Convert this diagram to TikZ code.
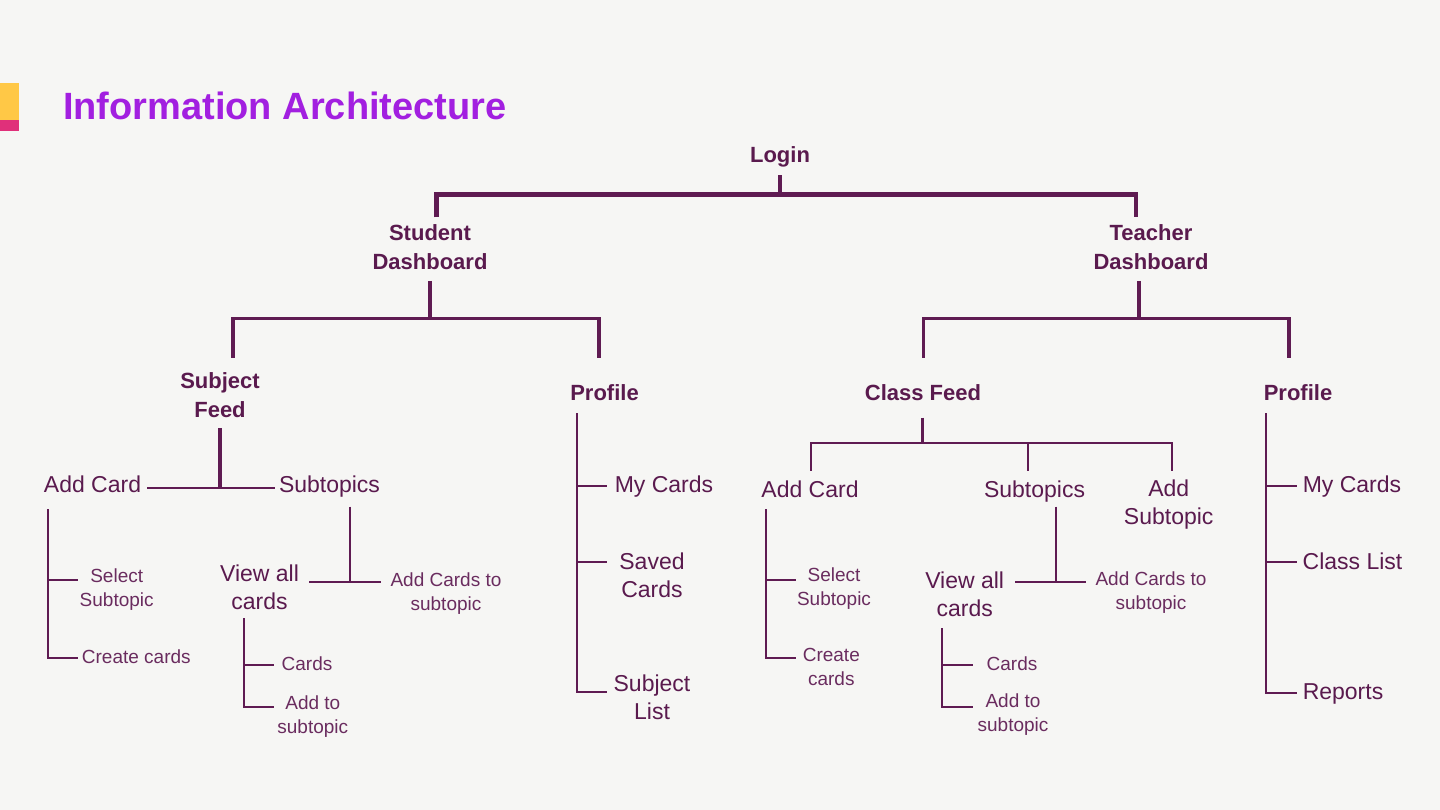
\documentclass[tikz,border=0pt]{standalone}
\usepackage{fontspec}
\setmainfont{Liberation Sans}
\definecolor{bg}{HTML}{F6F6F4}
\definecolor{txt}{HTML}{5A1A4E}
\definecolor{lighttxt}{HTML}{6A2C5F}
\definecolor{ln}{HTML}{5F1B52}
\definecolor{ttl}{HTML}{A21FE0}
\definecolor{yel}{HTML}{FFC846}
\definecolor{pnk}{HTML}{E0307A}
\begin{document}
\begin{tikzpicture}[x=1pt,y=-1pt,
  every node/.style={inner sep=0pt, anchor=base, align=center, text=txt},
  hd/.style={font=\bfseries\fontsize{22}{29}\selectfont},
  rg/.style={font=\fontsize{23}{28}\selectfont},
  lt/.style={font=\fontsize{19}{24}\selectfont, text=lighttxt},
  wA/.style={draw=ln, line width=4.5pt},
  wB/.style={draw=ln, line width=3.2pt},
  wC/.style={draw=ln, line width=2pt},
]
\useasboundingbox (0,0) rectangle (1440,810);
\fill[bg] (0,0) rectangle (1440,810);
\fill[yel] (0,83) rectangle (19,120.5);
\fill[pnk] (0,120.5) rectangle (19,131);
\node[anchor=base west, font=\bfseries\fontsize{38}{40}\selectfont, text=ttl] (title) at (63,119.5) {Information Architecture};

% level 0/1 (base anchor = baseline of last line)
\node[hd] (login) at (780,162.5) {Login};
\node[hd] (sd) at (430,269.5) {Student\\Dashboard};
\node[hd] (td) at (1151,269.5) {Teacher\\Dashboard};

\coordinate (loginS) at (780,175.5);
\coordinate (loginJ) at (780,194.3);
\coordinate (sdT) at (436.7,217.5);
\coordinate (tdT) at (1136,217.5);
\draw[wB] (loginS) -- (loginJ);
\draw[wA] (sdT) -- (sdT |- loginJ) -- (tdT |- loginJ) -- (tdT);

% level 2
\node[hd] (sf) at (220,417.5) {Subject\\Feed};
\node[hd] (sp) at (604.5,400.5) {Profile};
\node[hd] (cf) at (923,400.5) {Class Feed};
\node[hd] (tp) at (1298,400.5) {Profile};

\coordinate (sdS) at (430,281);
\coordinate (sdJ) at (430,318.3);
\coordinate (sfT) at (233,357.5);
\coordinate (spT) at (599,357.5);
\draw[wB] (sdS) -- (sdJ);
\draw[wB] (sfT) -- (sfT |- sdJ) -- (spT |- sdJ) -- (spT);

\coordinate (tdS) at (1139,281);
\coordinate (tdJ) at (1139,318.3);
\coordinate (cfT) at (923.5,357.5);
\coordinate (tpT) at (1289,357.5);
\draw[wB] (tdS) -- (tdJ);
\draw[wB] (cfT) -- (cfT |- tdJ) -- (tpT |- tdJ) -- (tpT);

% ---------- Student: Subject Feed ----------
\node[rg] (sac) at (92.5,492.7) {Add Card};
\node[rg] (sst) at (329.5,492.7) {Subtopics};
\coordinate (sfS) at (220,428.3);
\coordinate (sfJ) at (220,487.5);
\coordinate (sacE) at (147.3,487.5);
\coordinate (sstW) at (275,487.5);
\draw[wB] (sfS) -- (sfJ);
\draw[wC] (sacE) -- (sstW);

\node[lt] (sss) at (116.7,606.7) {Select\\Subtopic};
\node[lt] (scc) at (136.3,663.3) {Create cards};
\coordinate (sacV) at (47.7,509.3);
\coordinate (sacB) at (47.7,657.7);
\coordinate (sssL) at (47.7,580);
\draw[wC] (sacV) -- (sacB) -- (sacB -| 77.7,0);
\draw[wC] (sssL) -- (sssL -| 77.7,0);

\node[rg] (svc) at (259.5,609.3) {View all\\cards};
\node[lt] (sacs) at (446,610.5) {Add Cards to\\subtopic};
\coordinate (sstV) at (350,506.7);
\coordinate (sstJ) at (350,582);
\coordinate (svcE) at (309.3,582);
\coordinate (sacsW) at (380.7,582);
\draw[wC] (sstV) -- (sstJ);
\draw[wC] (svcE) -- (sacsW);

\node[lt] (scd) at (307,670) {Cards};
\node[lt] (sats) at (312.8,733.3) {Add to\\subtopic};
\coordinate (svcV) at (244.3,618.3);
\coordinate (svcB) at (244.3,707.3);
\coordinate (scdL) at (244.3,665);
\draw[wC] (svcV) -- (svcB) -- (svcB -| 274.3,0);
\draw[wC] (scdL) -- (scdL -| 274.3,0);

% ---------- Student: Profile ----------
\node[rg] (smc) at (664,492.7) {My Cards};
\node[rg] (ssc) at (652,597.3) {Saved\\Cards};
\node[rg] (ssl) at (652,719) {Subject\\List};
\coordinate (spV) at (577.3,413.3);
\coordinate (spB) at (577.3,692.3);
\coordinate (smcL) at (577.3,486);
\coordinate (sscL) at (577.3,562.3);
\draw[wC] (spV) -- (spB) -- (spB -| 606.7,0);
\draw[wC] (smcL) -- (smcL -| 606.7,0);
\draw[wC] (sscL) -- (sscL -| 606.7,0);

% ---------- Teacher: Class Feed ----------
\node[rg] (tac) at (810,497.3) {Add Card};
\node[rg] (tst) at (1034.5,497.3) {Subtopics};
\node[rg] (tas) at (1168.7,524.5) {Add\\Subtopic};
\coordinate (cfS) at (922.3,417.5);
\coordinate (cfJ) at (922.3,443.3);
\coordinate (tacT) at (810.7,470.7);
\coordinate (tstT) at (1028.3,470.7);
\coordinate (tasT) at (1171.7,470.7);
\draw[wB] (cfS) -- (cfJ);
\draw[wC] (tacT) -- (tacT |- cfJ) -- (tasT |- cfJ) -- (tasT);
\draw[wC] (tstT |- cfJ) -- (tstT);

\node[lt] (tss) at (834,605.7) {Select\\Subtopic};
\node[lt] (tcc) at (831.3,685.7) {Create\\cards};
\coordinate (tacV) at (765.7,509.3);
\coordinate (tacB) at (765.7,657.7);
\coordinate (tssL) at (765.7,580);
\draw[wC] (tacV) -- (tacB) -- (tacB -| 795.7,0);
\draw[wC] (tssL) -- (tssL -| 795.7,0);

\node[rg] (tvc) at (964.7,616.7) {View all\\cards};
\node[lt] (tacs) at (1151,609.5) {Add Cards to\\subtopic};
\coordinate (tstV) at (1056,506.7);
\coordinate (tstJ) at (1056,582.3);
\coordinate (tvcE) at (1015,582.3);
\coordinate (tacsW) at (1086,582.3);
\draw[wC] (tstV) -- (tstJ);
\draw[wC] (tvcE) -- (tacsW);

\node[lt] (tcd) at (1012,670.7) {Cards};
\node[lt] (tats) at (1013,731.7) {Add to\\subtopic};
\coordinate (tvcV) at (942.3,628.3);
\coordinate (tvcB) at (942.3,706.7);
\coordinate (tcdL) at (942.3,665);
\draw[wC] (tvcV) -- (tvcB) -- (tvcB -| 972.7,0);
\draw[wC] (tcdL) -- (tcdL -| 972.7,0);

% ---------- Teacher: Profile ----------
\node[rg] (tmc) at (1352,492.7) {My Cards};
\node[rg] (tcl) at (1352.5,569) {Class List};
\node[rg] (trp) at (1343,699.3) {Reports};
\coordinate (tpV) at (1266,413.3);
\coordinate (tpB) at (1266,692.7);
\coordinate (tmcL) at (1266,486);
\coordinate (tclL) at (1266,562.3);
\draw[wC] (tpV) -- (tpB) -- (tpB -| 1296.7,0);
\draw[wC] (tmcL) -- (tmcL -| 1296.7,0);
\draw[wC] (tclL) -- (tclL -| 1296.7,0);
\end{tikzpicture}
\end{document}
